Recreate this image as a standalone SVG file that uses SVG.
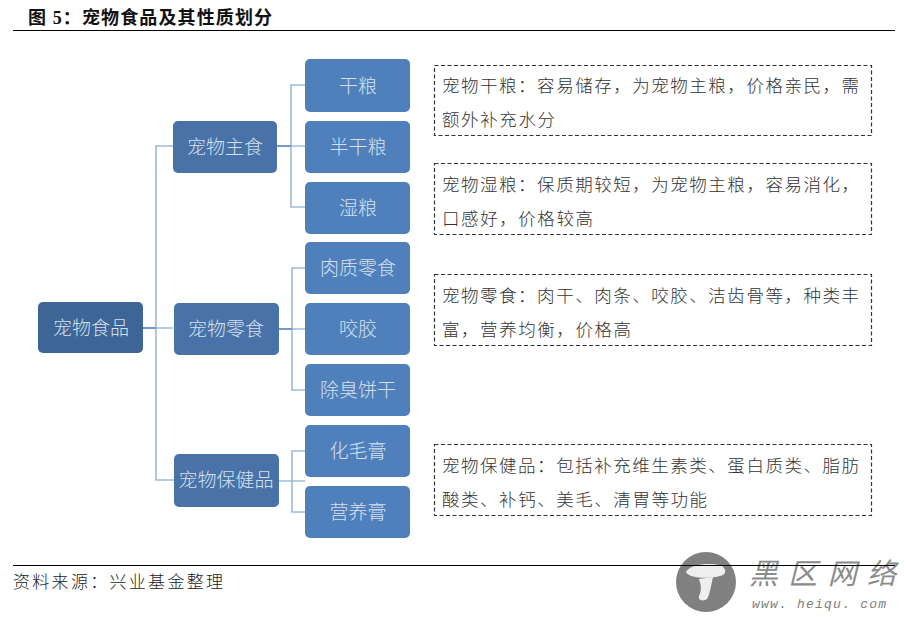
<svg xmlns="http://www.w3.org/2000/svg" width="908" height="617" viewBox="0 0 908 617">
<style>
text{font-family:"Noto Sans CJK SC","Liberation Sans",sans-serif}
.r0{fill:#3d6596}.r1{fill:#4872a8}.r2{fill:#5080bc}
.n{fill:#d5e0ee;font-size:19px;text-anchor:middle;font-weight:300}
.c{fill:none;stroke:#9dbad8;stroke-width:1.6}
.c2{fill:none;stroke:#5f8bc0;stroke-width:1.4}
.d{fill:#fff;stroke:#333;stroke-width:1.2;stroke-dasharray:4 2.500}
.t{fill:#333;font-size:17.5px;font-weight:300}
.rule{stroke:#000;stroke-width:1.2}
</style>
<rect width="908" height="617" fill="#fff"/>
<text id="title" x="28" y="24" font-size="18" font-weight="700" fill="#111" textLength="244" style="font-family:'Liberation Serif','Noto Sans CJK SC',serif">图 5：宠物食品及其性质划分</text>
<line class="rule" x1="13" y1="30.500" x2="895" y2="30.500"/>
<g id="connectors">
<path class="c" d="M143 328H173M156 328V146H173M156 328V480H174"/>
<path class="c" d="M277 146H305M291 146V85H305M291 146V207H305"/>
<path class="c" d="M279 329H305M292 329V268H305M292 329V390H305"/>
<path class="c" d="M279 481H305M292 481V451H305M292 481V512H305"/>
<path class="c2" d="M143 328H156M279 329H292M277 146H291"/>
</g>
<g id="n-root"><rect class="r0" x="38" y="302" width="105" height="51" rx="5"/><text class="n" x="91" y="335">宠物食品</text></g>
<g id="n-main"><rect class="r1" x="173" y="121" width="104" height="52" rx="5"/><text class="n" x="225" y="154">宠物主食</text></g>
<g id="n-snack"><rect class="r1" x="174" y="303" width="105" height="52" rx="5"/><text class="n" x="226" y="336">宠物零食</text></g>
<g id="n-health"><rect class="r1" x="174" y="454" width="105" height="53" rx="5"/><text class="n" x="226" y="487">宠物保健品</text></g>
<g id="n-dry"><rect class="r2" x="305" y="59" width="105" height="53" rx="5"/><text class="n" x="358" y="93">干粮</text></g>
<g id="n-semi"><rect class="r2" x="305" y="121" width="105" height="52" rx="5"/><text class="n" x="358" y="154">半干粮</text></g>
<g id="n-wet"><rect class="r2" x="305" y="182" width="105" height="52" rx="5"/><text class="n" x="358" y="215">湿粮</text></g>
<g id="n-meat"><rect class="r2" x="305" y="242" width="105" height="52" rx="5"/><text class="n" x="358" y="275">肉质零食</text></g>
<g id="n-chew"><rect class="r2" x="305" y="303" width="105" height="52" rx="5"/><text class="n" x="358" y="336">咬胶</text></g>
<g id="n-biscuit"><rect class="r2" x="305" y="364" width="105" height="52" rx="5"/><text class="n" x="358" y="397">除臭饼干</text></g>
<g id="n-hair"><rect class="r2" x="305" y="425" width="105" height="52" rx="5"/><text class="n" x="358" y="458">化毛膏</text></g>
<g id="n-nutri"><rect class="r2" x="305" y="486" width="105" height="52" rx="5"/><text class="n" x="358" y="519">营养膏</text></g>
<g id="note-1"><rect class="d" x="434.500" y="65.500" width="437" height="70"/><text class="t" x="442" y="92" textLength="417">宠物干粮：容易储存，为宠物主粮，价格亲民，需</text><text class="t" x="442" y="126" textLength="113">额外补充水分</text></g>
<g id="note-2"><rect class="d" x="434.500" y="163.500" width="437" height="71"/><text class="t" x="442" y="191" textLength="417">宠物湿粮：保质期较短，为宠物主粮，容易消化，</text><text class="t" x="442" y="225" textLength="151">口感好，价格较高</text></g>
<g id="note-3"><rect class="d" x="434.500" y="274.500" width="437" height="71"/><text class="t" x="442" y="302" textLength="417">宠物零食：肉干、肉条、咬胶、洁齿骨等，种类丰</text><text class="t" x="442" y="336" textLength="189">富，营养均衡，价格高</text></g>
<g id="note-4"><rect class="d" x="434.500" y="444.500" width="437" height="71"/><text class="t" x="442" y="472" textLength="417">宠物保健品：包括补充维生素类、蛋白质类、脂肪</text><text class="t" x="442" y="506" textLength="265">酸类、补钙、美毛、清胃等功能</text></g>
<text id="source" x="13" y="588" font-size="17" fill="#222" font-weight="300" textLength="210">资料来源：兴业基金整理</text>
<g id="watermark">
<circle cx="706" cy="582" r="30" fill="#808080"/>
<path d="M686 572C690 564 712 562 722 566C727 570 726 575 720 576C714 578 690 580 686 572Z" fill="#eee"/>
<path d="M699 579L713 577C711 586 710 594 707 599C702 602 698 600 699 596C702 590 701 585 699 579Z" fill="#eee"/>
<text x="749" y="584" font-size="29" font-style="italic" font-weight="400" fill="#8c8c8c" textLength="147">黑区网络</text>
<text x="752" y="608" font-size="13" font-style="italic" fill="#808080" textLength="134" style="font-family:'Liberation Mono',monospace">www. heiqu. com</text>
</g>
<line class="rule" x1="13" y1="565.500" x2="895" y2="565.500"/>
</svg>
